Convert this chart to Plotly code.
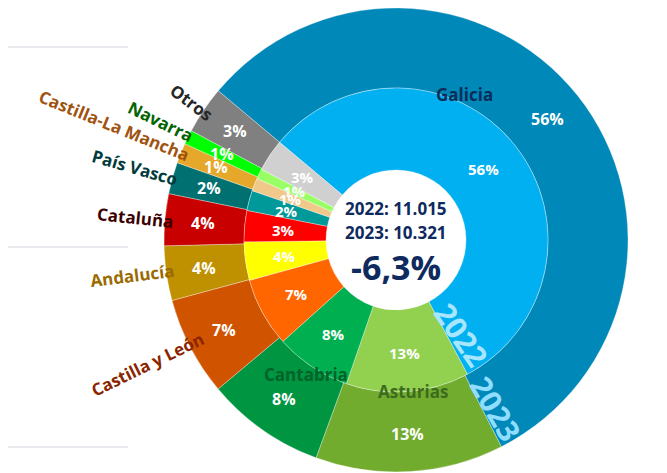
import math
import plotly.graph_objects as go

# ---- data ----
regions = ["Galicia", "Asturias", "Cantabria", "Castilla y León", "Andalucía",
           "Cataluña", "País Vasco", "Castilla-La Mancha", "Navarra", "Otros"]
values_2022 = [6180, 1440, 890, 810, 450, 365, 235, 150, 120, 375]
values_2023 = [5820, 1352, 857, 712, 392, 372, 227, 145, 103, 341]
total_2022 = "11.015"
total_2023 = "10.321"
change_label = "-6,3%"
years = ["2022", "2023"]

colors_2023 = ["#0088B8", "#72AC2E", "#009540", "#D05400", "#BF9000",
               "#C80000", "#007070", "#E6A82A", "#00FF00", "#808080"]
colors_2022 = ["#00B0F0", "#92D050", "#00B050", "#FF6600", "#FFFF00",
               "#FF0000", "#009999", "#F0C88A", "#99FF66", "#D0D0D0"]
label_colors = ["#0B2E59", "#3D6B1E", "#00632A", "#8B2500", "#9A6A00",
                "#3B0000", "#003B3B", "#A0520F", "#006400", "#262626"]

# ---- geometry (screen px; page body adds an 8px offset) ----
W, H = 667, 473
OFF = 8
cx, cy = 396, 240
R_out = 232
R_in = 152
R_hole = 70
ROT = -50
FONT = "Open Sans"


def px(sx, sy):
    return (sx - OFF) / W, 1 - (sy - OFF) / H


def dom(r):
    x0, y1 = px(cx - r, cy - r)
    x1, y0 = px(cx + r, cy + r)
    return dict(x=[x0, x1], y=[y0, y1])


fig = go.Figure()
fig.add_trace(go.Pie(
    labels=regions, values=values_2023, sort=False, direction="clockwise",
    rotation=ROT, hole=R_in / R_out, domain=dom(R_out),
    marker=dict(colors=colors_2023, line=dict(color="rgba(255,255,255,0.45)", width=0.7)),
    textinfo="none", hoverinfo="label+value+percent", name="2023"))
fig.add_trace(go.Pie(
    labels=regions, values=values_2022, sort=False, direction="clockwise",
    rotation=ROT, hole=R_hole / R_in, domain=dom(R_in),
    marker=dict(colors=colors_2022, line=dict(color="rgba(255,255,255,0.45)", width=0.7)),
    textinfo="none", hoverinfo="label+value+percent", name="2022"))

ann = []


def polar(r, theta_deg):
    t = math.radians(theta_deg)
    return cx + r * math.sin(t), cy - r * math.cos(t)


def pct_labels(values, r, size):
    tot = sum(values)
    cum = 0
    for v in values:
        mid = ROT + 360 * (cum + v / 2) / tot
        cum += v
        sx, sy = polar(r, mid)
        x, y = px(sx, sy)
        ann.append(dict(x=x, y=y, xref="paper", yref="paper",
                        text=f"{int(100 * v / tot + 0.5)}%", showarrow=False,
                        xanchor="center", yanchor="middle",
                        font=dict(family=FONT, size=size, color="white", weight="bold")))


pct_labels(values_2023, (R_in + R_out) / 2 + 2, 16)
pct_labels(values_2022, (R_hole + R_in) / 2 + 2, 15)

# region labels (screen px centre, rotation)
label_pos = {
    "Galicia": (464, 95, 0),
    "Asturias": (413, 391, 0),
    "Cantabria": (306, 374, 0),
    "Castilla y León": (147, 364, -26),
    "Andalucía": (132, 275, -7),
    "Cataluña": (135, 218, 6),
    "País Vasco": (135, 167, 16),
    "Castilla-La Mancha": (114, 126, 22),
    "Navarra": (161, 121, 26),
    "Otros": (192, 102, 37),
}
for name, col in zip(regions, label_colors):
    sx, sy, a = label_pos[name]
    x, y = px(sx, sy)
    ann.append(dict(x=x, y=y, xref="paper", yref="paper",
                    text=name, showarrow=False, textangle=a,
                    xanchor="center", yanchor="middle",
                    font=dict(family=FONT, size=17, color=col, weight="bold")))

# year labels along the end of the first slice
theta_end_22 = ROT + 360 * values_2022[0] / sum(values_2022)
theta_end_23 = ROT + 360 * values_2023[0] / sum(values_2023)
for yr, r, th, col in ((years[0], (R_hole + R_in) / 2 + 4, theta_end_22 - 6.5, "#A6E6FF"),
                       (years[1], (R_in + R_out) / 2 + 4, theta_end_23 - 3.5, "#8FDDFF")):
    sx, sy = polar(r, th)
    x, y = px(sx, sy)
    ann.append(dict(x=x, y=y, xref="paper", yref="paper", text=yr,
                    showarrow=False, textangle=th - 90,
                    xanchor="center", yanchor="middle",
                    font=dict(family=FONT, size=30, color=col, weight="bold")))

# centre text
navy = "#0E2A5E"
for txt, dy, size in ((f"2022: {total_2022}", -31, 17),
                      (f"2023: {total_2023}", -8, 17),
                      (change_label, 27, 34)):
    x, y = px(cx, cy + dy)
    ann.append(dict(x=x, y=y, xref="paper", yref="paper", text=txt,
                    showarrow=False, xanchor="center", yanchor="middle",
                    font=dict(family=FONT, size=size, color=navy, weight="bold")))

shapes = []
for yy in (47, 247, 447):
    _, y = px(0, yy)
    shapes.append(dict(type="line", xref="paper", yref="paper",
                       x0=0, x1=(128 - OFF) / W, y0=y, y1=y,
                       line=dict(color="#D3D3DD", width=1), layer="below"))

fig.update_layout(
    width=W, height=H, margin=dict(l=0, r=0, t=0, b=0),
    paper_bgcolor="white", plot_bgcolor="white", showlegend=False,
    annotations=ann, shapes=shapes,
)
fig.write_html("out.html")
